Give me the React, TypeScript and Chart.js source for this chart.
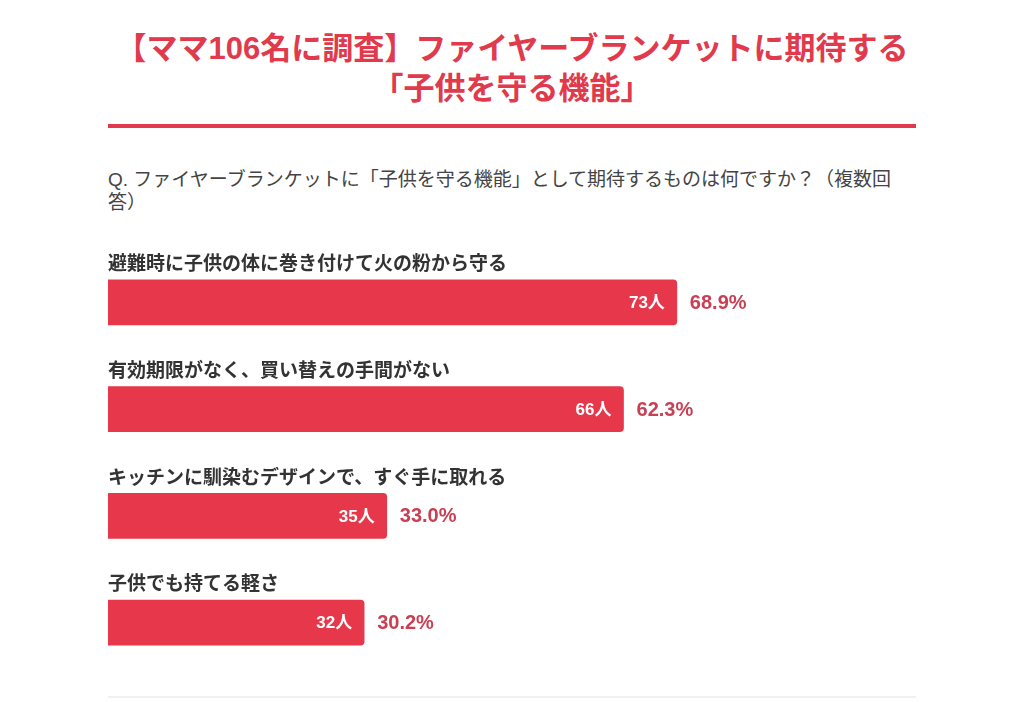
import { useEffect, useRef } from 'react';
import { Chart, registerables, Plugin } from 'chart.js';

Chart.register(...registerables);

const titleLines = ['【ママ106名に調査】ファイヤーブランケットに期待する', '「子供を守る機能」'];
const questionLines = ['Q. ファイヤーブランケットに「子供を守る機能」として期待するものは何ですか？（複数回', '答）'];

const categories = [
  '避難時に子供の体に巻き付けて火の粉から守る',
  '有効期限がなく、買い替えの手間がない',
  'キッチンに馴染むデザインで、すぐ手に取れる',
  '子供でも持てる軽さ',
];
const counts = [73, 66, 35, 32];
const percents = [68.9, 62.3, 33.0, 30.2];

const FONT = '"Liberation Sans", "Noto Sans CJK JP", sans-serif';
const BAR_COLOR = '#e6384a';
const PCT_COLOR = '#c94054';
const X_MIN = -1.5;

// category text above each bar, count inside, percent after
const barLabels: Plugin<'bar'> = {
  id: 'barLabels',
  afterDatasetsDraw(chart) {
    const { ctx, chartArea } = chart;
    const meta = chart.getDatasetMeta(0);
    ctx.save();
    meta.data.forEach((bar: any, i) => {
      const y = bar.y;
      const end = bar.x;
      const half = bar.height / 2;

      ctx.textBaseline = 'middle';
      ctx.textAlign = 'left';
      ctx.fillStyle = '#333333';
      ctx.font = `bold 19px ${FONT}`;
      ctx.fillText(categories[i], chartArea.left, y - half - 15);

      ctx.textAlign = 'right';
      ctx.fillStyle = '#ffffff';
      ctx.font = `bold 17px ${FONT}`;
      ctx.fillText(`${counts[i]}人`, end - 12, y + 1);

      ctx.textAlign = 'left';
      ctx.fillStyle = PCT_COLOR;
      ctx.font = `bold 20px ${FONT}`;
      ctx.fillText(`${percents[i].toFixed(1)}%`, end + 13, y + 1);
    });
    ctx.restore();
  },
};

const BarChart = () => {
  const canvasRef = useRef<HTMLCanvasElement>(null);
  const chartInstance = useRef<Chart | null>(null);

  useEffect(() => {
    if (!canvasRef.current) return;
    if (chartInstance.current) chartInstance.current.destroy();

    chartInstance.current = new Chart(canvasRef.current, {
      type: 'bar',
      data: {
        labels: categories,
        datasets: [{
          data: percents,
          base: X_MIN,
          backgroundColor: BAR_COLOR,
          borderRadius: 4,
          barThickness: 45,
        }],
      },
      options: {
        indexAxis: 'y',
        animation: false,
        responsive: false,
        maintainAspectRatio: false,
        layout: { padding: { top: 9, bottom: 9, left: 0, right: 0 } },
        plugins: {
          legend: { display: false },
          tooltip: { enabled: false },
        },
        scales: {
          x: { display: false, min: X_MIN, max: 98.5 },
          y: { display: false, offset: true },
        },
      },
      plugins: [barLabels],
    });

    return () => {
      if (chartInstance.current) {
        chartInstance.current.destroy();
        chartInstance.current = null;
      }
    };
  }, []);

  return <canvas ref={canvasRef} width={808} height={445} style={{ position: 'absolute', left: 108, top: 240, width: 808, height: 445 }} />;
};

const App = () => {
  useEffect(() => {
    document.body.style.margin = '0';
  }, []);

  return (
    <div style={{ position: 'relative', width: 1024, height: 702, background: '#fff', fontFamily: FONT, overflow: 'hidden' }}>
      <div style={{ position: 'absolute', top: 29, left: 0, width: 1024, textAlign: 'center', color: '#e03a4c', fontWeight: 'bold', fontSize: 31, lineHeight: '40px' }}>
        {titleLines.map((t) => <div key={t}>{t}</div>)}
      </div>
      <div style={{ position: 'absolute', top: 124, left: 108, width: 808, height: 4, background: '#e03a4c' }} />
      <div style={{ position: 'absolute', top: 168, left: 108, width: 808, color: '#444', fontSize: 19, lineHeight: '23px', whiteSpace: 'nowrap' }}>
        {questionLines.map((t) => <div key={t}>{t}</div>)}
      </div>
      <BarChart />
      <div style={{ position: 'absolute', top: 696, left: 108, width: 808, height: 2, background: '#f1f1f1' }} />
    </div>
  );
};

export default App;
